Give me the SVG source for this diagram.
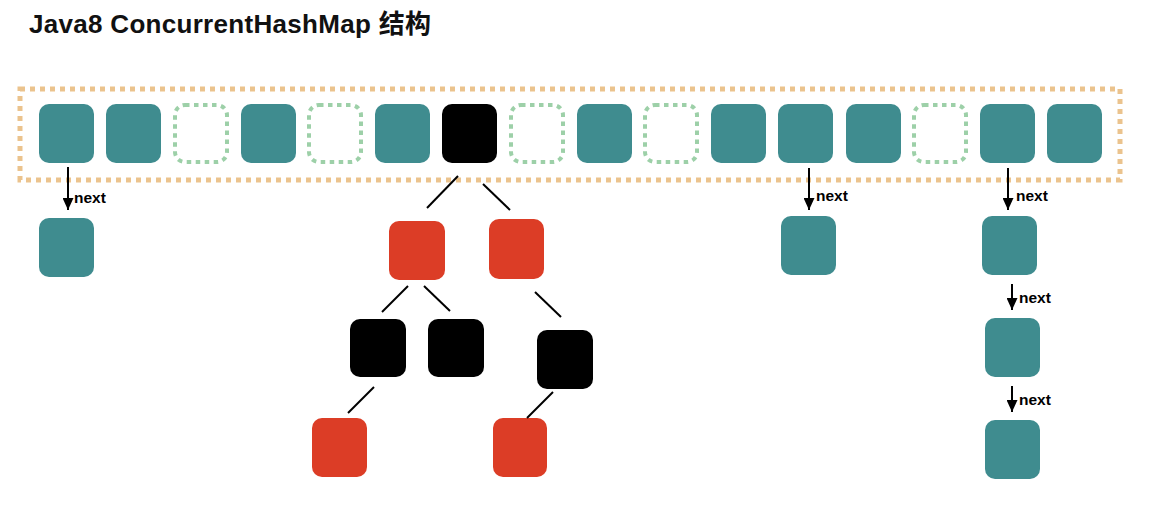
<svg xmlns="http://www.w3.org/2000/svg" width="1173" height="521" viewBox="0 0 1173 521">
<defs>
<style>
.t{fill:#3f8c8f}
.e{fill:none;stroke:#9dd0a8;stroke-width:4;stroke-dasharray:4.5 4.5}
.b{fill:#000}
.r{fill:#dc3d26}
.ln{stroke:#000;stroke-width:2;fill:none}
.ar{stroke:#000;stroke-width:2;fill:none;marker-end:url(#ah)}
.lbl{font-family:"Liberation Sans",Arial,sans-serif;font-weight:bold;font-size:15.5px;fill:#000}
</style>
<marker id="ah" viewBox="0 0 12 11" refX="12" refY="5.5" markerWidth="6" markerHeight="5.5" orient="auto" markerUnits="strokeWidth">
<path d="M0,0 L12,5.5 L0,11 z" fill="#000"/>
</marker>
</defs>
<rect width="1173" height="521" fill="#fff"/>
<text x="29" y="33" font-family="'Liberation Sans',Arial,'Noto Sans CJK SC',sans-serif" font-weight="bold" font-size="26" letter-spacing="0.3" fill="#111">Java8 ConcurrentHashMap 结构</text>
<g id="table">
<rect x="20" y="89" width="1100" height="91" fill="none" stroke="#ebc38d" stroke-width="5" stroke-dasharray="5 5"/>
</g>
<g id="bucket0"><rect class="t" x="39" y="104" width="55" height="59" rx="10"/></g>
<g id="bucket1"><rect class="t" x="106" y="104" width="55" height="59" rx="10"/></g>
<g id="bucket2"><rect class="e" x="175" y="105" width="52" height="57" rx="10"/></g>
<g id="bucket3"><rect class="t" x="241" y="104" width="55" height="59" rx="10"/></g>
<g id="bucket4"><rect class="e" x="309" y="105" width="52" height="57" rx="10"/></g>
<g id="bucket5"><rect class="t" x="375" y="104" width="55" height="59" rx="10"/></g>
<g id="bucket6"><rect class="b" x="442" y="104" width="55" height="59" rx="10"/></g>
<g id="bucket7"><rect class="e" x="511" y="105" width="52" height="57" rx="10"/></g>
<g id="bucket8"><rect class="t" x="577" y="104" width="55" height="59" rx="10"/></g>
<g id="bucket9"><rect class="e" x="645" y="105" width="52" height="57" rx="10"/></g>
<g id="bucket10"><rect class="t" x="711" y="104" width="55" height="59" rx="10"/></g>
<g id="bucket11"><rect class="t" x="778" y="104" width="55" height="59" rx="10"/></g>
<g id="bucket12"><rect class="t" x="846" y="104" width="55" height="59" rx="10"/></g>
<g id="bucket13"><rect class="e" x="914" y="105" width="52" height="57" rx="10"/></g>
<g id="bucket14"><rect class="t" x="980" y="104" width="55" height="59" rx="10"/></g>
<g id="bucket15"><rect class="t" x="1047" y="104" width="55" height="59" rx="10"/></g>

<g id="list0-1"><rect class="t" x="39" y="218" width="55" height="59" rx="10"/></g>
<g id="list11-1"><rect class="t" x="781" y="216" width="55" height="59" rx="10"/></g>
<g id="list14-1"><rect class="t" x="982" y="216" width="55" height="59" rx="10"/></g>
<g id="list14-2"><rect class="t" x="985" y="318" width="55" height="59" rx="10"/></g>
<g id="list14-3"><rect class="t" x="985" y="420" width="55" height="59" rx="10"/></g>

<g id="tree-l1"><rect class="r" x="389" y="221" width="56" height="59" rx="10"/></g>
<g id="tree-r1"><rect class="r" x="489" y="219" width="55" height="60" rx="10"/></g>
<g id="tree-l2a"><rect class="b" x="350" y="319" width="56" height="58" rx="10"/></g>
<g id="tree-l2b"><rect class="b" x="428" y="319" width="56" height="58" rx="10"/></g>
<g id="tree-r2"><rect class="b" x="537" y="330" width="56" height="59" rx="10"/></g>
<g id="tree-l3"><rect class="r" x="312" y="418" width="55" height="59" rx="10"/></g>
<g id="tree-r3"><rect class="r" x="493" y="418" width="54" height="59" rx="10"/></g>

<g id="connectors">
<line class="ln" x1="458" y1="176" x2="427" y2="208"/>
<line class="ln" x1="483" y1="184" x2="510" y2="210"/>
<line class="ln" x1="408" y1="286" x2="382" y2="312"/>
<line class="ln" x1="424" y1="286" x2="450" y2="311"/>
<line class="ln" x1="535" y1="292" x2="561" y2="317"/>
<line class="ln" x1="374" y1="387" x2="348" y2="413"/>
<line class="ln" x1="553" y1="392" x2="527" y2="418"/>
<line class="ar" x1="68" y1="167" x2="68" y2="210"/>
<line class="ar" x1="809" y1="168" x2="809" y2="210"/>
<line class="ar" x1="1008" y1="168" x2="1008" y2="210"/>
<line class="ar" x1="1012" y1="284" x2="1012" y2="310"/>
<line class="ar" x1="1012" y1="386" x2="1012" y2="412"/>
<text class="lbl" x="74" y="203">next</text>
<text class="lbl" x="816" y="201">next</text>
<text class="lbl" x="1016" y="201">next</text>
<text class="lbl" x="1019" y="303">next</text>
<text class="lbl" x="1019" y="405">next</text>
</g>
</svg>
